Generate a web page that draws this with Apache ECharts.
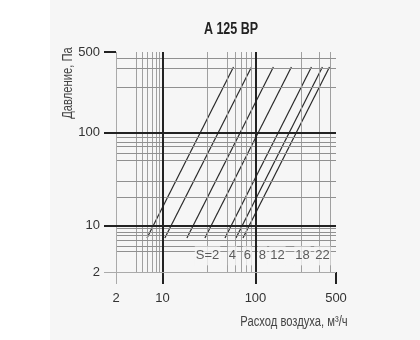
<!DOCTYPE html>
<html>
<head>
<meta charset="utf-8">
<script src="https://cdn.jsdelivr.net/npm/echarts@6/dist/echarts.min.js"></script>
<style>
  html, body { margin: 0; padding: 0; background: #fff; }
  #chart { width: 420px; height: 340px; }
</style>
</head>
<body>
<div id="chart"></div>
<script>
// axis ticks (labelled) and grid lines
const tickValues = [2, 10, 100, 500];
const majorGrid = [10, 100, 500];
const xMinorGrid = [4, 5, 6, 7, 8, 9, 30, 50, 60, 70, 80, 90, 250, 360, 440];
const yMinorGrid = [4, 5, 6, 7, 8, 9, 20, 30, 50, 60, 70, 80, 90, 250, 360, 440];

// characteristic lines: start / end points (flow m3/h, pressure Pa)
const sLabels = ["S=2", "4", "6", "8", "12", "18", "22"];
const flowStart = [5.85, 10.6, 18.3, 28.6, 47, 61.7, 73.4];
const flowEnd = [58, 90.6, 143, 205, 306, 381, 439];
const pressStart = [6.5, 6.5, 6.5, 6.5, 6.5, 6.5, 6.5];
const pressEnd = [370, 370, 370, 370, 370, 370, 370];

// where the S labels sit
const labelFlow = [30.5, 56.5, 82, 115, 155, 256, 381];
const labelPress = 3.5;

// piecewise log scale of the original drawing: 2..10, 10..100, 100..500
const W1 = 0.5, W3 = 0.866;
const AX_MAX = W1 + 1 + W3;
function pos(v) {
  if (v <= 10) return W1 * Math.log(v / 2) / Math.log(5);
  if (v <= 100) return W1 + Math.log10(v / 10);
  return W1 + 1 + W3 * Math.log(v / 100) / Math.log(5);
}
function tickName(v) {
  const t = tickValues.find((t) => Math.abs(pos(t) - v) < 1e-6);
  return t === undefined ? "" : String(t);
}

const FONT = "'Liberation Sans', Arial, sans-serif";
const chart = echarts.init(document.getElementById("chart"), null, { renderer: "canvas" });

function vLine(v, color, width) {
  return { xAxis: pos(v), lineStyle: { color: color, width: width, type: "solid" } };
}
function hLine(v, color, width) {
  return { yAxis: pos(v), lineStyle: { color: color, width: width, type: "solid" } };
}

let gridData = [];
xMinorGrid.forEach((v) => gridData.push(vLine(v, "#a0a0a0", 1)));
yMinorGrid.forEach((v) => gridData.push(hLine(v, "#909090", 1)));
gridData.push(vLine(2, "#aaaaaa", 1));
gridData.push(hLine(2, "#aaaaaa", 1));
majorGrid.forEach((v) => {
  gridData.push(vLine(v, "#222", 2));
  gridData.push(hLine(v, "#222", 2));
});

let series = [];
series.push({
  type: "line",
  data: [],
  z: 1,
  silent: true,
  markLine: {
    silent: true,
    animation: false,
    symbol: ["none", "none"],
    label: { show: false },
    data: gridData,
  },
});
sLabels.forEach((name, i) => {
  series.push({
    name: name,
    type: "line",
    z: 3,
    symbol: "none",
    animation: false,
    lineStyle: { color: "#2a2a2a", width: 1.2 },
    data: [
      [pos(flowStart[i]), pos(pressStart[i])],
      [pos(flowEnd[i]), pos(pressEnd[i])],
    ],
  });
});
series.push({
  type: "scatter",
  z: 5,
  symbolSize: 2,
  itemStyle: { color: "rgba(0,0,0,0)" },
  animation: false,
  label: {
    show: true,
    position: "inside",
    formatter: (p) => p.name,
    color: "#333",
    fontSize: 13,
    fontFamily: FONT,
    backgroundColor: "#f6f6f6",
    padding: [3, 1],
  },
  data: labelFlow.map((f, i) => ({ name: sLabels[i], value: [pos(f), pos(labelPress)] })),
});

function axisPair(isX) {
  const main = {
    type: "value",
    min: 0,
    max: AX_MAX,
    splitLine: { show: false },
    axisLine: { show: false },
    axisTick: {
      show: true,
      customValues: majorGrid.map(pos),
      length: 12,
      lineStyle: { color: "#222", width: 2 },
    },
    axisLabel: {
      show: true,
      customValues: tickValues.map(pos),
      formatter: tickName,
      margin: isX ? 20 : 16,
      color: "#333",
      fontSize: 13,
      fontFamily: FONT,
    },
  };
  const thin = {
    type: "value",
    min: 0,
    max: AX_MAX,
    splitLine: { show: false },
    axisLine: { show: false },
    axisLabel: { show: false },
    axisTick: {
      show: true,
      customValues: [pos(2)],
      length: 12,
      lineStyle: { color: "#aaa", width: 1 },
    },
  };
  main.position = isX ? "bottom" : "left";
  thin.position = isX ? "bottom" : "left";
  return [main, thin];
}

const option = {
  backgroundColor: "#fff",
  animation: false,
  graphic: [
    {
      type: "rect",
      z: -10,
      shape: { x: 50, y: 0, width: 370, height: 340 },
      style: { fill: "#f6f6f6" },
    },
    {
      type: "text",
      x: 231,
      y: 30,
      scaleX: 0.78,
      style: {
        text: "A 125 BP",
        fill: "#222",
        font: "bold 16px " + FONT,
        textAlign: "center",
        textVerticalAlign: "middle",
      },
    },
    {
      type: "text",
      x: 68,
      y: 83,
      rotation: Math.PI / 2,
      scaleX: 0.8,
      style: {
        text: "Давление, Па",
        fill: "#444",
        font: "14px " + FONT,
        textAlign: "center",
        textVerticalAlign: "middle",
      },
    },
    {
      type: "text",
      x: 294,
      y: 322,
      scaleX: 0.8,
      style: {
        text: "Расход воздуха, м³/ч",
        fill: "#444",
        font: "14px " + FONT,
        textAlign: "center",
        textVerticalAlign: "middle",
      },
    },
  ],
  grid: { left: 116, right: 84, top: 52, bottom: 68, containLabel: false },
  xAxis: axisPair(true),
  yAxis: axisPair(false),
  series: series,
};
chart.setOption(option);
</script>
</body>
</html>
